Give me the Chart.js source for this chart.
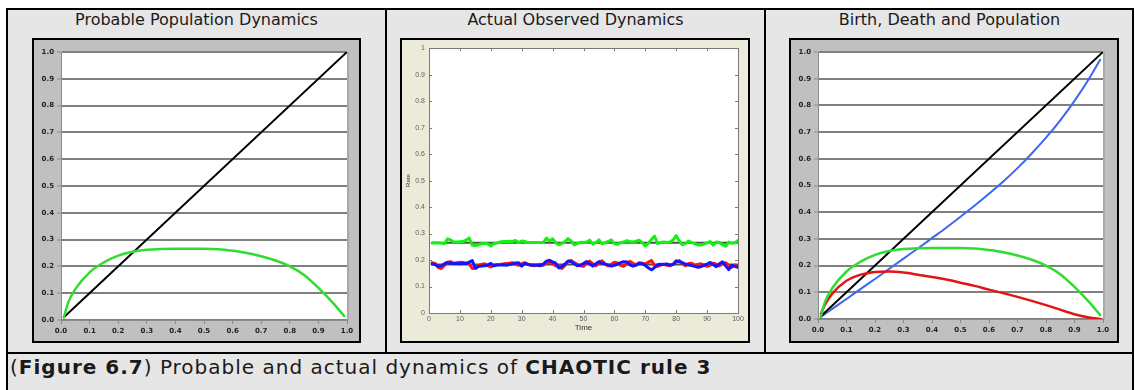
<!DOCTYPE html>
<html>
<head>
<meta charset="utf-8">
<script src="https://cdn.jsdelivr.net/npm/chart.js@4.4.1/dist/chart.umd.min.js"></script>
<style>
  html, body { margin: 0; padding: 0; background: #ffffff; }
  body { width: 1135px; height: 390px; position: relative; overflow: hidden;
         font-family: "DejaVu Sans", Verdana, sans-serif; color: #1a1a1a; }
  .sheet { position: absolute; left: 6px; top: 8px; width: 1128px; height: 400px;
           background: #e6e6e6; border: 2px solid #000; box-sizing: border-box; }
  .vline { position: absolute; top: 8px; width: 2px; height: 346px; background: #000; }
  .hline { position: absolute; left: 6px; top: 352px; width: 1128px; height: 2px; background: #000; }
  .title { position: absolute; top: 10px; height: 20px; line-height: 20px; font-size: 16px;
           text-align: center; white-space: nowrap; }
  .frame { position: absolute; top: 38px; height: 305px; border: 2px solid #000; box-sizing: border-box; }
  .frame canvas { position: absolute; left: 0; top: 0; }
  .caption { position: absolute; left: 10px; top: 355px; font-size: 20px; line-height: 24px;
             letter-spacing: 1px; white-space: nowrap; }
</style>
</head>
<body>
<div class="sheet"></div>
<div class="vline" style="left:385px"></div>
<div class="vline" style="left:764px"></div>
<div class="hline"></div>

<div class="title" style="left:8px;width:377px">Probable Population Dynamics</div>
<div class="title" style="left:387px;width:377px">Actual Observed Dynamics</div>
<div class="title" style="left:766px;width:367px">Birth, Death and Population</div>

<div class="frame" style="left:32px;width:329px;background:#c0c0c0"><canvas id="probable" width="325" height="301"></canvas></div>
<div class="frame" style="left:400px;width:350px;background:#ecead9"><canvas id="observed" width="346" height="301"></canvas></div>
<div class="frame" style="left:789px;width:330px;background:#c0c0c0"><canvas id="birthDeath" width="326" height="301"></canvas></div>

<div class="caption">(<b>Figure 6.7</b>) Probable and actual dynamics of <b>CHAOTIC rule 3</b></div>

<script>
// Population share (x) and the rates it produces
const popX     = [0.01, 0.025, 0.05, 0.10, 0.15, 0.20, 0.25, 0.30, 0.35, 0.40, 0.45, 0.50,
                  0.55, 0.60, 0.65, 0.70, 0.75, 0.80, 0.85, 0.90, 0.95, 0.99];
const popGreen = [0.010, 0.065, 0.115, 0.178, 0.215, 0.240, 0.255, 0.262, 0.265, 0.266, 0.266, 0.266,
                  0.264, 0.258, 0.250, 0.238, 0.222, 0.200, 0.168, 0.120, 0.065, 0.015];
const popRed   = [0.020, 0.055, 0.095, 0.143, 0.166, 0.176, 0.178, 0.174, 0.166, 0.157, 0.148, 0.136,
                  0.124, 0.110, 0.097, 0.083, 0.068, 0.052, 0.035, 0.018, 0.006, 0.000];
const popBlue  = [0.008, 0.019, 0.038, 0.075, 0.113, 0.150, 0.188, 0.226, 0.264, 0.303, 0.342, 0.383,
                  0.425, 0.469, 0.515, 0.565, 0.620, 0.679, 0.744, 0.817, 0.898, 0.971];
const diagX    = [0.01, 1.00];
const diagY    = [0.01, 1.00];

// Observed rates over time
const timeSteps = [1, 2, 3, 4, 5, 6, 7, 8, 9, 10, 11, 12, 13, 14, 15, 16, 17, 18, 19, 20,
                   21, 22, 23, 24, 25, 26, 27, 28, 29, 30, 31, 32, 33, 34, 35, 36, 37, 38, 39, 40,
                   41, 42, 43, 44, 45, 46, 47, 48, 49, 50, 51, 52, 53, 54, 55, 56, 57, 58, 59, 60,
                   61, 62, 63, 64, 65, 66, 67, 68, 69, 70, 71, 72, 73, 74, 75, 76, 77, 78, 79, 80,
                   81, 82, 83, 84, 85, 86, 87, 88, 89, 90, 91, 92, 93, 94, 95, 96, 97, 98, 99, 100];
const obsGreen = [0.264,0.264,0.265,0.263,0.262,0.280,0.276,0.268,0.268,0.269,
                  0.270,0.275,0.283,0.256,0.255,0.258,0.262,0.263,0.262,0.253,
                  0.262,0.264,0.268,0.270,0.270,0.271,0.270,0.274,0.266,0.272,
                  0.270,0.266,0.266,0.266,0.266,0.266,0.266,0.283,0.272,0.280,
                  0.266,0.258,0.262,0.270,0.281,0.272,0.257,0.262,0.267,0.266,
                  0.268,0.275,0.260,0.266,0.276,0.261,0.266,0.270,0.276,0.262,
                  0.259,0.266,0.268,0.273,0.270,0.268,0.271,0.275,0.266,0.253,
                  0.264,0.278,0.290,0.262,0.266,0.268,0.266,0.268,0.276,0.292,
                  0.272,0.258,0.262,0.272,0.266,0.262,0.257,0.257,0.260,0.265,
                  0.270,0.256,0.268,0.266,0.258,0.252,0.268,0.263,0.265,0.274];
const obsRed   = [0.190,0.187,0.172,0.168,0.180,0.192,0.194,0.188,0.190,0.192,
                  0.191,0.189,0.185,0.168,0.172,0.180,0.183,0.186,0.178,0.174,
                  0.180,0.182,0.183,0.185,0.187,0.188,0.190,0.184,0.180,0.186,
                  0.190,0.185,0.180,0.178,0.182,0.184,0.180,0.188,0.192,0.186,
                  0.178,0.176,0.168,0.180,0.195,0.198,0.190,0.184,0.178,0.176,
                  0.188,0.196,0.186,0.178,0.189,0.197,0.185,0.178,0.184,0.192,
                  0.189,0.180,0.176,0.186,0.195,0.188,0.182,0.190,0.188,0.186,
                  0.192,0.198,0.180,0.176,0.181,0.184,0.180,0.178,0.185,0.193,
                  0.198,0.186,0.178,0.187,0.188,0.180,0.183,0.186,0.180,0.176,
                  0.180,0.188,0.184,0.178,0.186,0.190,0.180,0.173,0.180,0.178];
const obsBlue  = [0.185,0.183,0.176,0.178,0.186,0.191,0.188,0.187,0.187,0.186,
                  0.188,0.186,0.192,0.198,0.168,0.176,0.177,0.178,0.182,0.187,
                  0.178,0.181,0.181,0.182,0.180,0.183,0.185,0.189,0.190,0.177,
                  0.187,0.183,0.181,0.181,0.180,0.178,0.185,0.196,0.199,0.193,
                  0.188,0.170,0.176,0.185,0.196,0.194,0.186,0.178,0.180,0.187,
                  0.194,0.185,0.177,0.186,0.194,0.188,0.185,0.181,0.177,0.180,
                  0.184,0.190,0.194,0.193,0.182,0.177,0.180,0.187,0.186,0.180,
                  0.170,0.163,0.172,0.182,0.184,0.183,0.185,0.181,0.183,0.197,
                  0.194,0.190,0.185,0.181,0.179,0.176,0.173,0.175,0.180,0.185,
                  0.191,0.182,0.175,0.186,0.193,0.178,0.164,0.180,0.176,0.172];
const meanX     = [1, 100];
const meanGreen = [0.265, 0.265];
const meanBirth = [0.183, 0.183];

// Tick values
const unitTicks = [0, 0.1, 0.2, 0.3, 0.4, 0.5, 0.6, 0.7, 0.8, 0.9, 1.0];
const timeTicks = [0, 10, 20, 30, 40, 50, 60, 70, 80, 90, 100];

const pts = (xs, ys) => xs.map((x, i) => ({ x: x, y: ys[i] }));
const fixTicks = list => scale => { scale.ticks = list.map(v => ({ value: v })); };

// White plotting surface (and optional boxed, inward ticks drawn on top)
const plotArea = {
  id: 'plotArea',
  beforeDraw(chart, args, opts) {
    const a = chart.chartArea, c = chart.ctx;
    c.save();
    c.fillStyle = '#ffffff';
    c.fillRect(a.left, a.top, a.right - a.left, a.bottom - a.top);
    c.restore();
  },
  afterDatasetsDraw(chart, args, opts) {
    const a = chart.chartArea, c = chart.ctx;
    c.save();
    if (opts.edgeRight) {
      c.strokeStyle = opts.edgeRight; c.lineWidth = 2;
      c.beginPath(); c.moveTo(a.right + 1, a.top); c.lineTo(a.right + 1, a.bottom); c.stroke();
    }
    if (opts.box) {
      c.strokeStyle = opts.box; c.lineWidth = 1;
      c.strokeRect(Math.round(a.left) + 0.5, Math.round(a.top) + 0.5,
                   Math.round(a.right - a.left), Math.round(a.bottom - a.top));
      const xs = chart.scales.x, ys = chart.scales.y, L = 3;
      c.beginPath();
      xs.ticks.forEach(t => {
        const px = Math.round(xs.getPixelForValue(t.value)) + 0.5;
        c.moveTo(px, a.bottom); c.lineTo(px, a.bottom - L);
        c.moveTo(px, a.top); c.lineTo(px, a.top + L);
      });
      ys.ticks.forEach(t => {
        const py = Math.round(ys.getPixelForValue(t.value)) + 0.5;
        c.moveTo(a.left, py); c.lineTo(a.left + L, py);
        c.moveTo(a.right, py); c.lineTo(a.right - L, py);
      });
      c.stroke();
    }
    c.restore();
  }
};

const oneDecimal = v => Number(v).toFixed(1);
const bareNumber = v => String(Number(Number(v).toFixed(1)));

function populationChart(id, datasets, pad) {
  return new Chart(document.getElementById(id), {
    type: 'line',
    data: { datasets: datasets },
    plugins: [plotArea],
    options: {
      responsive: false, animation: false, events: [],
      layout: { padding: { left: 0, right: pad.right, top: pad.top, bottom: 0 } },
      plugins: { legend: { display: false }, tooltip: { enabled: false },
                 plotArea: { edgeRight: '#a8a8a8' } },
      elements: { point: { radius: 0 },
                  line: { cubicInterpolationMode: 'monotone', borderCapStyle: 'round', borderJoinStyle: 'round' } },
      scales: {
        x: {
          type: 'linear', min: 0, max: 1,
          afterBuildTicks: fixTicks(unitTicks),
          afterFit: s => { s.height = pad.axisH; },
          grid: { drawOnChartArea: false, drawTicks: true, tickLength: 4, color: '#8a8a8a', lineWidth: 1 },
          border: { color: '#8a8a8a', width: 1 },
          ticks: { callback: oneDecimal, padding: 3, maxRotation: 0, autoSkip: false,
                   color: '#222222', font: { family: 'DejaVu Sans', size: 7, weight: 'bold' } }
        },
        y: {
          type: 'linear', min: 0, max: 1,
          afterBuildTicks: fixTicks(unitTicks),
          afterFit: s => { s.width = pad.axisW; },
          grid: { drawTicks: true, tickLength: 4, color: '#808080', lineWidth: 2, tickWidth: 1, tickColor: '#8a8a8a' },
          border: { color: '#8a8a8a', width: 1 },
          ticks: { callback: oneDecimal, padding: 3, autoSkip: false,
                   color: '#222222', font: { family: 'DejaVu Sans', size: 7, weight: 'bold' } }
        }
      }
    }
  });
}

populationChart('probable', [
  { data: pts(popX, popGreen), borderColor: '#2fdc2f', borderWidth: 2.5 },
  { data: pts(diagX, diagY), borderColor: '#000000', borderWidth: 2 }
], { right: 12, top: 12, axisW: 27, axisH: 21 });

populationChart('birthDeath', [
  { data: pts(popX, popGreen), borderColor: '#2fdc2f', borderWidth: 2.5 },
  { data: pts(popX, popRed), borderColor: '#e41414', borderWidth: 2.5 },
  { data: pts(diagX, diagY), borderColor: '#000000', borderWidth: 2 },
  { data: pts(popX, popBlue), borderColor: '#3a68f0', borderWidth: 2 }
], { right: 14, top: 12, axisW: 27, axisH: 22 });

const smallFont = { family: 'Liberation Sans', size: 7 };

new Chart(document.getElementById('observed'), {
  type: 'line',
  data: { datasets: [
    { data: pts(timeSteps, obsBlue), borderColor: '#1414ff', borderWidth: 3 },
    { data: pts(timeSteps, obsRed), borderColor: '#ff1414', borderWidth: 3 },
    { data: pts(timeSteps, obsGreen), borderColor: '#14f014', borderWidth: 3 },
    { data: pts(meanX, meanGreen), borderColor: '#505050', borderWidth: 2 },
    { data: pts(meanX, meanBirth), borderColor: '#505050', borderWidth: 2 }
  ] },
  plugins: [plotArea],
  options: {
    responsive: false, animation: false, events: [],
    layout: { padding: { left: 0, right: 10, top: 8, bottom: 0 } },
    plugins: { legend: { display: false }, tooltip: { enabled: false },
               plotArea: { box: '#7a7a7a' } },
    elements: { point: { radius: 0 }, line: { tension: 0, borderJoinStyle: 'round', borderCapStyle: 'round' } },
    scales: {
      x: {
        type: 'linear', min: 0, max: 100,
        afterBuildTicks: fixTicks(timeTicks),
        afterFit: s => { s.height = 28; },
        grid: { display: false, drawTicks: false }, border: { display: false },
        title: { display: true, text: 'Time', color: '#333', font: { family: 'Liberation Sans', size: 8 },
                 padding: { top: 0, bottom: 8 } },
        ticks: { padding: 2, maxRotation: 0, autoSkip: false, color: '#606060', font: smallFont }
      },
      y: {
        type: 'linear', min: 0, max: 1,
        afterBuildTicks: fixTicks(unitTicks),
        afterFit: s => { s.width = 27; },
        grid: { display: false, drawTicks: false }, border: { display: false },
        title: { display: true, text: 'Rate', color: '#333', font: { family: 'Liberation Sans', size: 6 },
                 padding: { top: 3, bottom: 0 } },
        ticks: { callback: bareNumber, padding: 4, autoSkip: false, color: '#606060', font: smallFont }
      }
    }
  }
});
</script>
</body>
</html>
